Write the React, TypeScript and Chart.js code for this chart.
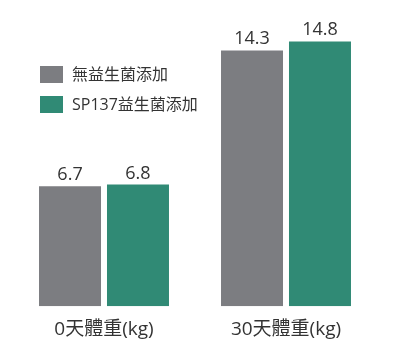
import React, { useEffect, useRef } from "react";
import { Chart, registerables } from "chart.js";

Chart.register(...registerables);

const categories = ["0天體重(kg)", "30天體重(kg)"];
const seriesNames = ["無益生菌添加", "SP137益生菌添加"];
const controlValues = [6.7, 14.3];
const sp137Values = [6.8, 14.8];
const seriesColors = ["#7c7d81", "#308a75"];

const FONT = "'Open Sans', 'Noto Sans CJK TC', sans-serif";
const TEXT = "#333333";

const valueLabelPlugin = {
  id: "valueLabels",
  afterDatasetsDraw(chart: any) {
    const ctx = chart.ctx;
    ctx.save();
    ctx.font = `18px ${FONT}`;
    ctx.fillStyle = TEXT;
    ctx.textAlign = "center";
    ctx.textBaseline = "alphabetic";
    chart.data.datasets.forEach((ds: any, i: number) => {
      const meta = chart.getDatasetMeta(i);
      meta.data.forEach((bar: any, j: number) => {
        ctx.fillText(String(ds.data[j]), bar.x, bar.y - 6);
      });
    });
    ctx.restore();
  },
};

const insideLegendPlugin = {
  id: "insideLegend",
  afterDraw(chart: any) {
    const ctx = chart.ctx;
    const area = chart.chartArea;
    ctx.save();
    ctx.font = `16px ${FONT}`;
    ctx.textBaseline = "middle";
    ctx.textAlign = "left";
    chart.data.datasets.forEach((ds: any, i: number) => {
      const x = area.left + 27;
      const y = 58 + i * 30;
      ctx.fillStyle = ds.backgroundColor;
      ctx.fillRect(x, y, 23, 17);
      ctx.fillStyle = TEXT;
      ctx.fillText(ds.label, x + 32, y + 9);
    });
    ctx.restore();
  },
};

export default function App() {
  const ref = useRef<HTMLCanvasElement | null>(null);
  useEffect(() => {
    if (!ref.current) return;
    const chart = new Chart(ref.current, {
      type: "bar",
      data: {
        labels: categories,
        datasets: [
          { label: seriesNames[0], data: controlValues, backgroundColor: seriesColors[0] },
          { label: seriesNames[1], data: sp137Values, backgroundColor: seriesColors[1] },
        ],
      },
      options: {
        responsive: true,
        maintainAspectRatio: false,
        animation: false,
        layout: { padding: { left: 5, right: 11, top: 12, bottom: 0 } },
        plugins: {
          legend: { display: false },
          tooltip: { enabled: false },
        },
        datasets: {
          bar: { categoryPercentage: 0.747, barPercentage: 0.912 },
        },
        scales: {
          x: {
            grid: { display: false, drawTicks: false },
            border: { display: false },
            ticks: { color: TEXT, font: { family: FONT, size: 19 }, padding: 12 },
          },
          y: {
            display: false,
            min: 0,
            max: 16,
          },
        },
      },
      plugins: [valueLabelPlugin, insideLegendPlugin],
    });
    return () => chart.destroy();
  }, []);
  return (
    <div style={{ width: 380, height: 345, position: "relative" }}>
      <canvas ref={ref} />
    </div>
  );
}
